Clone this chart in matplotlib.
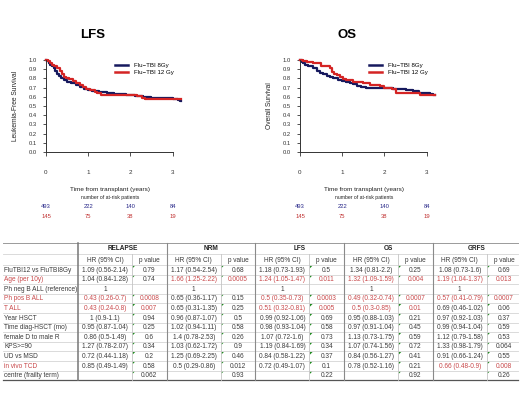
import numpy as np
import matplotlib
matplotlib.use('Agg')
import matplotlib.pyplot as plt
from matplotlib.patches import Polygon

plt.rcParams['font.family'] = ['Liberation Sans', 'DejaVu Sans']

# Kaplan-Meier curves (time in years, survival)
lfs_8_t = [0, 0.03, 0.06, 0.1, 0.14, 0.18, 0.22, 0.26, 0.3, 0.35, 0.42, 0.5, 0.6, 0.7, 0.8, 0.9, 1.0,
           1.1, 1.25, 1.45, 1.6, 1.9, 2.1, 2.3, 2.5, 2.7, 3.0, 3.12, 3.18, 3.2]
lfs_8_s = [1.0, 0.99, 0.97, 0.95, 0.93, 0.91, 0.88, 0.85, 0.83, 0.80, 0.78, 0.76, 0.745, 0.73, 0.71, 0.69, 0.675,
           0.665, 0.655, 0.64, 0.63, 0.62, 0.61, 0.60, 0.59, 0.585, 0.575, 0.56, 0.55, 0.55]
lfs_12_t = [0, 0.05, 0.1, 0.15, 0.2, 0.27, 0.33, 0.38, 0.42, 0.48, 0.55, 0.63, 0.72, 0.8, 0.88, 0.95, 1.05,
            1.15, 1.22, 1.3, 1.6, 2.15, 2.28, 2.35, 3.1, 3.2]
lfs_12_s = [1.0, 0.99, 0.97, 0.95, 0.93, 0.91, 0.88, 0.85, 0.82, 0.80, 0.79, 0.77, 0.75, 0.73, 0.71, 0.69, 0.67,
            0.655, 0.64, 0.625, 0.62, 0.61, 0.59, 0.58, 0.575, 0.575]

os_8_t = [0, 0.04, 0.08, 0.12, 0.2, 0.31, 0.4, 0.47, 0.55, 0.63, 0.7, 0.79, 0.9, 1.0, 1.1, 1.18, 1.26, 1.34,
          1.45, 1.57, 2.0, 2.2, 2.52, 2.68, 2.83, 3.07, 3.15, 3.2]
os_8_s = [1.0, 0.98, 0.965, 0.95, 0.93, 0.91, 0.88, 0.86, 0.845, 0.83, 0.815, 0.80, 0.785, 0.77, 0.76, 0.75, 0.735, 0.72,
          0.71, 0.70, 0.695, 0.68, 0.675, 0.66, 0.645, 0.635, 0.625, 0.615]
os_12_t = [0, 0.08, 0.16, 0.31, 0.47, 0.5, 0.7, 0.75, 0.8, 0.87, 0.94, 1.02, 1.1, 1.26, 1.5, 1.65, 1.89, 2.0,
           2.17, 2.28, 2.76, 2.84, 3.2]
os_12_s = [1.0, 0.99, 0.98, 0.97, 0.965, 0.93, 0.91, 0.87, 0.85, 0.84, 0.81, 0.795, 0.78, 0.765, 0.75, 0.73, 0.72, 0.70,
           0.68, 0.64, 0.64, 0.615, 0.615]

risk_times = [0, 1, 2, 3]
risk_8 = [493, 222, 140, 84]
risk_12 = [145, 75, 38, 19]

# multivariate table
outcomes = ['RELAPSE', 'NRM', 'LFS', 'OS', 'GRFS']
row_labels = ['FluTBI12 vs FluTBI8Gy', 'Age (per 10y)', 'Ph neg B ALL (reference)', 'Ph pos B ALL', 'T ALL',
              'Year HSCT', 'Time diag-HSCT (mo)', 'female D to male R', 'KPS>=90', 'UD vs MSD', 'in vivo TCD',
              'centre (frailty term)']
label_red = [False, True, False, True, True, False, False, False, False, False, True, False]

relapse_hr = ['1.09 (0.56-2.14)', '1.04 (0.84-1.28)', '1', '0.43 (0.26-0.7)', '0.43 (0.24-0.8)', '1 (0.9-1.1)',
              '0.95 (0.87-1.04)', '0.86 (0.5-1.49)', '1.27 (0.78-2.07)', '0.72 (0.44-1.18)', '0.85 (0.49-1.49)', '']
relapse_p = ['0.79', '0.74', '', '0.0008', '0.007', '0.94', '0.25', '0.6', '0.34', '0.2', '0.58', '0.062']
nrm_hr = ['1.17 (0.54-2.54)', '1.66 (1.25-2.22)', '1', '0.65 (0.36-1.17)', '0.65 (0.31-1.35)', '0.96 (0.87-1.07)',
          '1.02 (0.94-1.11)', '1.4 (0.78-2.53)', '1.03 (0.62-1.72)', '1.25 (0.69-2.25)', '0.5 (0.29-0.86)', '']
nrm_p = ['0.68', '0.0005', '', '0.15', '0.25', '0.5', '0.58', '0.26', '0.9', '0.46', '0.012', '0.93']
lfs_hr = ['1.18 (0.73-1.93)', '1.24 (1.05-1.47)', '1', '0.5 (0.35-0.73)', '0.51 (0.32-0.81)', '0.99 (0.92-1.06)',
          '0.98 (0.93-1.04)', '1.07 (0.72-1.6)', '1.19 (0.84-1.69)', '0.84 (0.58-1.22)', '0.72 (0.49-1.07)', '']
lfs_p = ['0.5', '0.011', '', '0.0003', '0.005', '0.69', '0.58', '0.73', '0.34', '0.37', '0.1', '0.22']
os_hr = ['1.34 (0.81-2.2)', '1.32 (1.09-1.59)', '1', '0.49 (0.32-0.74)', '0.5 (0.3-0.85)', '0.95 (0.88-1.03)',
         '0.97 (0.91-1.04)', '1.13 (0.73-1.75)', '1.07 (0.74-1.56)', '0.84 (0.56-1.27)', '0.78 (0.52-1.16)', '']
os_p = ['0.25', '0.004', '', '0.0007', '0.01', '0.21', '0.45', '0.59', '0.72', '0.41', '0.21', '0.92']
grfs_hr = ['1.08 (0.73-1.6)', '1.19 (1.04-1.37)', '1', '0.57 (0.41-0.79)', '0.69 (0.46-1.02)', '0.97 (0.92-1.03)',
           '0.99 (0.94-1.04)', '1.12 (0.79-1.58)', '1.33 (0.98-1.79)', '0.91 (0.66-1.24)', '0.66 (0.48-0.9)', '']
grfs_p = ['0.69', '0.013', '', '0.0007', '0.06', '0.37', '0.59', '0.53', '0.064', '0.55', '0.008', '0.26']
# rows highlighted in red in each outcome
relapse_sig = [3, 4]
nrm_sig = [1]
lfs_sig = [1, 3, 4]
os_sig = [1, 3, 4]
grfs_sig = [1, 3, 10]

NAVY = '#16195e'
RED = '#d42424'
TRED = '#c8484a'
TXT = '#3a3a3a'
W, H = 520, 393

fig = plt.figure(figsize=(5.2, 3.93), dpi=100)


def km_panel(x0, title, ylabel, c8, c12, title_x):
    ax = fig.add_axes([x0 / W, 1 - 152 / H, 135 / W, 92 / H])
    ax.step(c8[0], c8[1], where='post', color=NAVY, lw=1.6, label='Flu\u2212TBI 8Gy', clip_on=False)
    ax.step(c12[0], c12[1], where='post', color=RED, lw=1.6, label='Flu\u2212TBI 12 Gy', clip_on=False)
    ax.set_xlim(0, 3.2)
    ax.set_ylim(0, 1.0)
    ax.spines['top'].set_visible(False)
    ax.spines['right'].set_visible(False)
    ax.spines['bottom'].set_bounds(0, 3)
    for s in ['left', 'bottom']:
        ax.spines[s].set_color('#333333')
        ax.spines[s].set_linewidth(0.7)
    ax.set_xticks([0, 1, 2, 3])
    ax.set_yticks(np.arange(0, 1.01, 0.1))
    ax.set_yticklabels(['%.1f' % v for v in np.arange(0, 1.01, 0.1)])
    ax.tick_params(axis='x', length=3, width=0.6, pad=10, labelsize=4.5, colors='#333333')
    ax.tick_params(axis='y', length=2.5, width=0.6, pad=4, labelsize=4.2, colors='#333333')
    ax.set_ylabel(ylabel, fontsize=4.8, labelpad=7, color='#222222')
    ax.legend(loc='upper left', bbox_to_anchor=(0.47, 1.03), frameon=False, fontsize=4.4,
              handlelength=2.2, handletextpad=0.9, labelspacing=0.3)
    leg = ax.get_legend()
    for ln in leg.get_lines():
        ln.set_linewidth(1.8)
    fig.text(title_x / W, 1 - 35 / H, title, fontsize=9.5, fontweight='bold', ha='center', va='center')
    mid = x0 + 64
    fig.text(mid / W, 1 - 189 / H, 'Time from transplant (years)', fontsize=4.6, ha='center', va='center', color='#222222')
    fig.text(mid / W, 1 - 198 / H, 'number of at-risk patients', fontsize=3.7, ha='center', va='center', color='#222222')
    for t, a, b in zip(risk_times, risk_8, risk_12):
        xp = ax.transData.transform((t, 0))[0] / fig.dpi / 5.2
        fig.text(xp, 1 - 207 / H, str(a), fontsize=4.2, ha='center', va='center', color='#2a2a8a')
        fig.text(xp, 1 - 216 / H, str(b), fontsize=4.2, ha='center', va='center', color='#c03030')
    return ax


km_panel(46, 'LFS', 'Leukemia-Free Survival', (lfs_8_t, lfs_8_s), (lfs_12_t, lfs_12_s), 93)
km_panel(300, 'OS', 'Overall Survival', (os_8_t, os_8_s), (os_12_t, os_12_s), 347)

# table drawn in pixel coordinates
tab = fig.add_axes([0, 0, 1, 1])
tab.set_xlim(0, W)
tab.set_ylim(H, 0)
tab.axis('off')

top, h1, h2 = 243, 254, 265
rh = 9.6
n = len(row_labels)
bottom = h2 + n * rh
left, right = 3, 518
col0 = 78
group_w = 88.7
hr_w = 54

for k in range(n + 1):
    y = h2 + k * rh
    tab.plot([left, right], [y, y], color='#d4d4d4', lw=0.6)
tab.plot([left, right], [h1, h1], color='#d4d4d4', lw=0.6)
tab.plot([left, right], [top, top], color='#9a9a9a', lw=0.7)
tab.plot([left, right], [bottom, bottom], color='#555555', lw=0.9)
tab.plot([col0, col0], [top, bottom], color='#777777', lw=1.1)

hr_cols = [relapse_hr, nrm_hr, lfs_hr, os_hr, grfs_hr]
p_cols = [relapse_p, nrm_p, lfs_p, os_p, grfs_p]
sig_cols = [relapse_sig, nrm_sig, lfs_sig, os_sig, grfs_sig]
fs = 4.7

for g, name in enumerate(outcomes):
    gx = col0 + g * group_w
    split = gx + hr_w
    if g > 0:
        tab.plot([gx, gx], [top, bottom], color='#8a8a8a', lw=0.8)
    tab.plot([split, split], [h1, bottom], color='#c4c4c4', lw=0.6)
    tab.text(gx + group_w / 2, (top + h1) / 2 + 0.5, name, fontsize=fs, fontweight='bold',
             ha='center', va='center', color='#222222')
    tab.text(gx + hr_w / 2, (h1 + h2) / 2 + 0.5, 'HR (95% CI)', fontsize=fs, ha='center', va='center', color=TXT)
    tab.text((split + gx + group_w) / 2, (h1 + h2) / 2 + 0.5, 'p value', fontsize=fs, ha='center', va='center',
             color=TXT)
    for r in range(n):
        yc = h2 + (r + 0.5) * rh + 0.4
        col = TRED if r in sig_cols[g] else TXT
        tab.text(gx + hr_w / 2, yc, hr_cols[g][r], fontsize=fs, ha='center', va='center', color=col)
        tab.text((split + gx + group_w) / 2, yc, p_cols[g][r], fontsize=fs, ha='center', va='center', color=col)
        if p_cols[g][r]:
            ry = h2 + r * rh
            tab.add_patch(Polygon([[split + 0.6, ry + 0.6], [split + 3.2, ry + 0.6], [split + 0.6, ry + 3.2]],
                                  closed=True, color='#1f8a1f', lw=0))

for r, lab in enumerate(row_labels):
    yc = h2 + (r + 0.5) * rh + 0.4
    tab.text(left + 1.5, yc, lab, fontsize=fs, ha='left', va='center',
             color=TRED if label_red[r] else TXT)

fig.savefig('out.png', dpi=100)
